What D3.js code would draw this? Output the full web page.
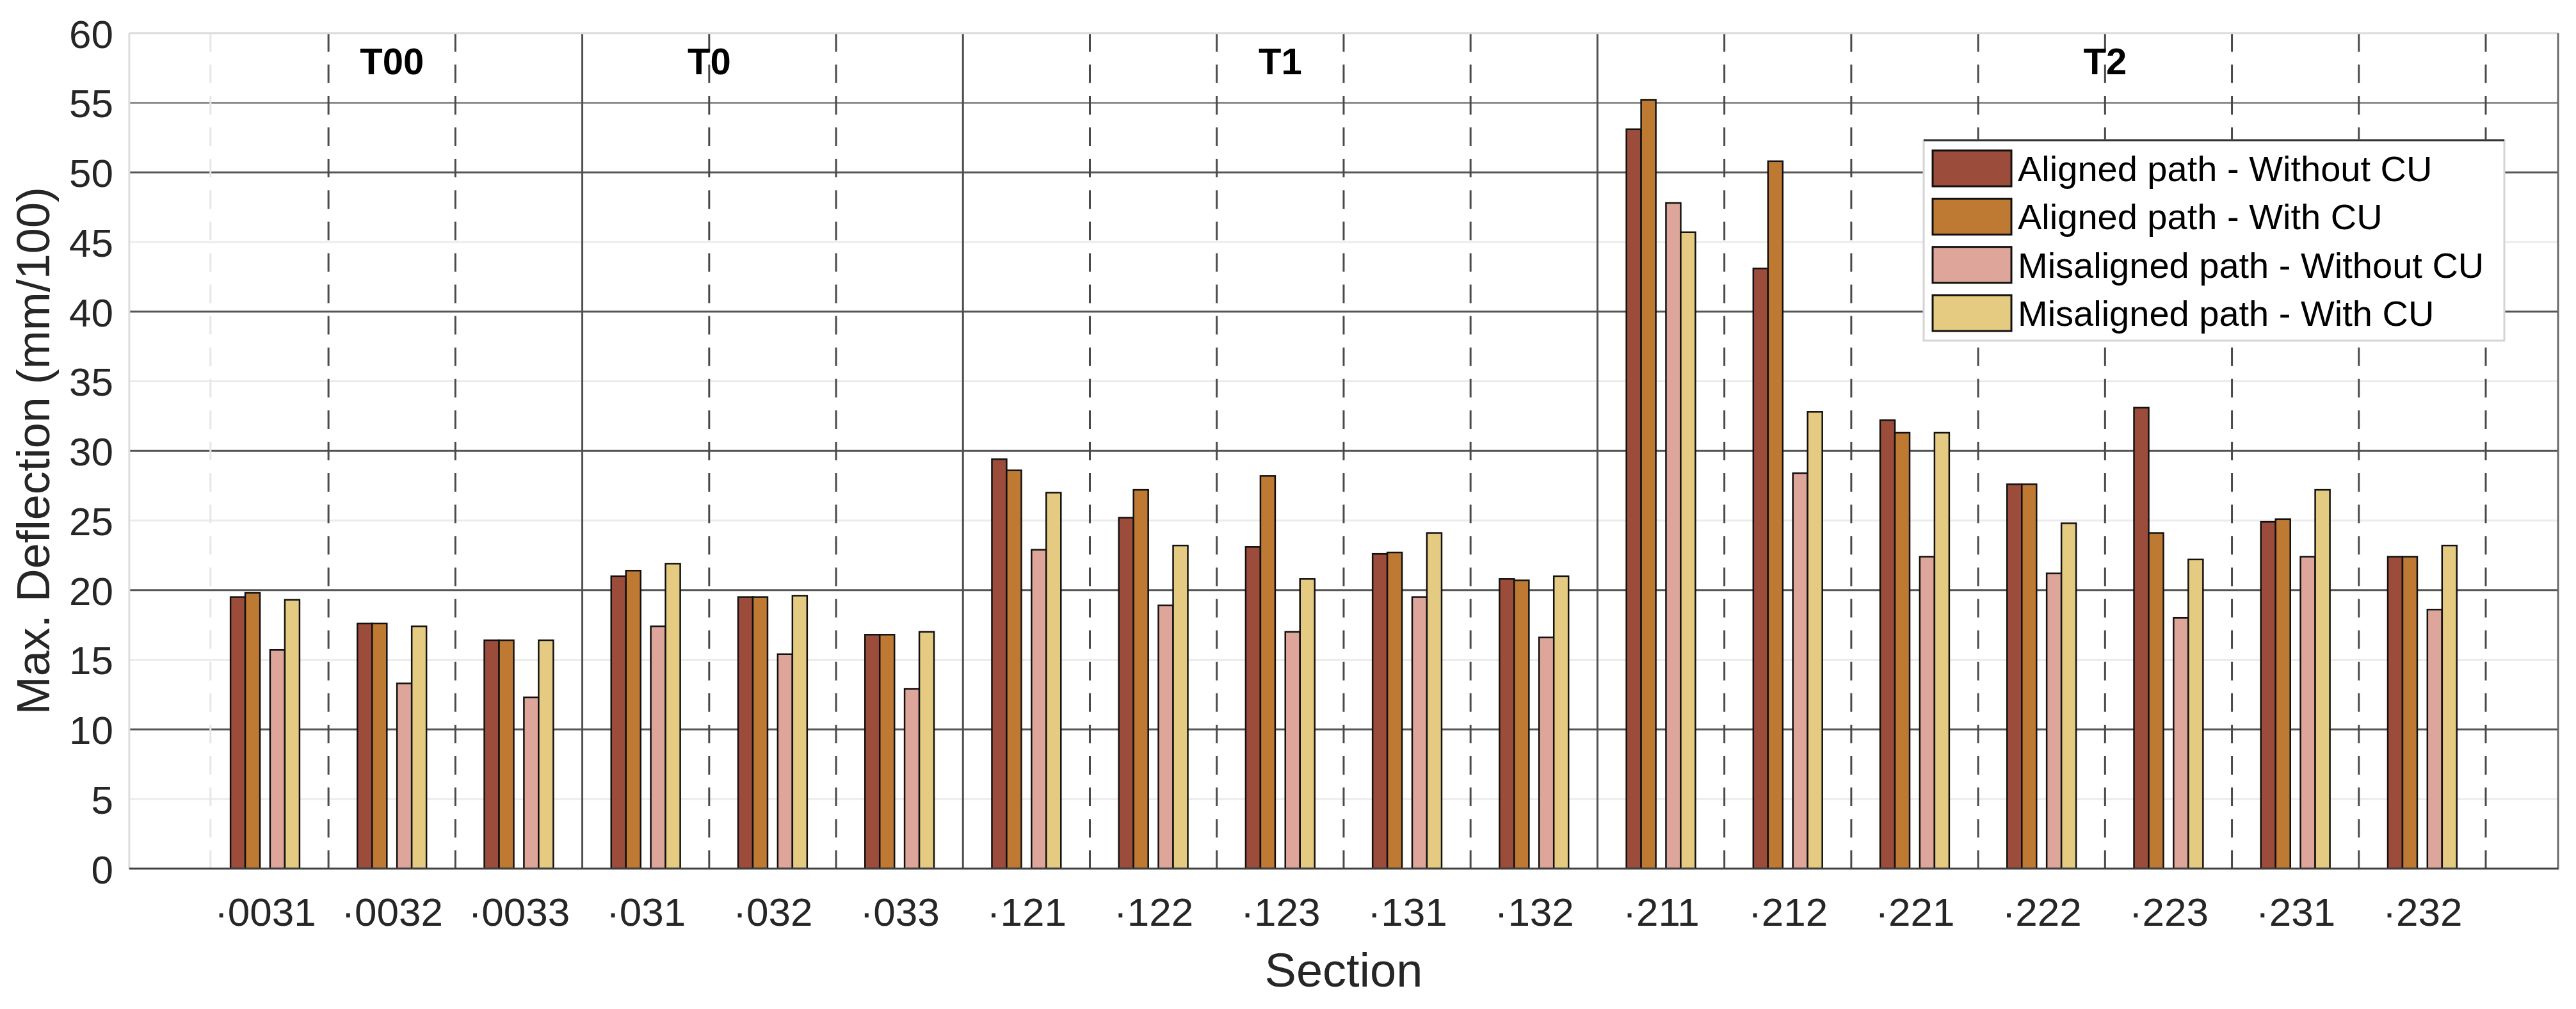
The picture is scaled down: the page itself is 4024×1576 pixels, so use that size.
<!DOCTYPE html>
<html>
<head>
<meta charset="utf-8">
<script src="https://cdn.jsdelivr.net/npm/d3@7"></script>
<style>
  html, body { margin: 0; padding: 0; background: #fff; }
  svg text { font-family: "Liberation Sans", Arial, Helvetica, sans-serif; }
</style>
</head>
<body>
<svg id="chart" width="4024" height="1576"></svg>
<script>
// ---------------- data ----------------
const categories = ["·0031","·0032","·0033","·031","·032","·033","·121","·122","·123","·131","·132","·211","·212","·221","·222","·223","·231","·232"];
const seriesNames = ["Aligned path - Without CU","Aligned path - With CU","Misaligned path - Without CU","Misaligned path - With CU"];
const alignedWithoutCU    = [19.5,17.6,16.4,21.0,19.5,16.8,29.4,25.2,23.1,22.6,20.8,53.1,43.1,32.2,27.6,33.1,24.9,22.4];
const alignedWithCU       = [19.8,17.6,16.4,21.4,19.5,16.8,28.6,27.2,28.2,22.7,20.7,55.2,50.8,31.3,27.6,24.1,25.1,22.4];
const misalignedWithoutCU = [15.7,13.3,12.3,17.4,15.4,12.9,22.9,18.9,17.0,19.5,16.6,47.8,28.4,22.4,21.2,18.0,22.4,18.6];
const misalignedWithCU    = [19.3,17.4,16.4,21.9,19.6,17.0,27.0,23.2,20.8,24.1,21.0,45.7,32.8,31.3,24.8,22.2,27.2,23.2];
const groupNames = ["T00","T0","T1","T2"];
const groupLabelPos = [1, 3.5, 8, 14.5];      // in category-index units
const groupBoundaries = [2.5, 5.5, 10.5];     // solid separators
const yTicks = [0,5,10,15,20,25,30,35,40,45,50,55,60];
const yMajorLines = [10,20,30,40,50];
const yMidLines = [55];
const yMinorLines = [5,15,25,35,45];
const xLabel = "Section";
const yLabel = "Max. Deflection (mm/100)";

// ---------------- styles ----------------
const colors = ["#9B4C3A","#BE7933","#DEA69A","#E4CB81"];
const subOffsets = [-0.214, -0.098, 0.098, 0.214]; // bar centre offsets (fraction of category step)
const barWidthFrac = 0.116;

const series = [alignedWithoutCU, alignedWithCU, misalignedWithoutCU, misalignedWithCU];

const L = 201.9, R = 3996, T = 51.7, B = 1356.7;
const x = d3.scaleLinear().domain([-1.07, categories.length - 1 + 1.07]).range([L, R]);
const y = d3.scaleLinear().domain([0, 60]).range([B, T]);
const step = x(1) - x(0);

const svg = d3.select("#chart");
svg.append("rect").attr("width", 4024).attr("height", 1576).attr("fill", "#fff");

const g = svg.append("g");

// minor (light) grid lines
g.selectAll(".minor").data(yMinorLines).join("line")
  .attr("x1", L).attr("x2", R).attr("y1", d => y(d)).attr("y2", d => y(d))
  .attr("stroke", "#ebebeb").attr("stroke-width", 3);
g.selectAll(".mid").data(yMidLines).join("line")
  .attr("x1", L).attr("x2", R).attr("y1", d => y(d)).attr("y2", d => y(d))
  .attr("stroke", "#8a8a8a").attr("stroke-width", 3);
g.selectAll(".major").data(yMajorLines).join("line")
  .attr("x1", L).attr("x2", R).attr("y1", d => y(d)).attr("y2", d => y(d))
  .attr("stroke", "#555").attr("stroke-width", 3);

// faint dashed line at left
g.append("line").attr("x1", x(-0.43)).attr("x2", x(-0.43)).attr("y1", T).attr("y2", B)
  .attr("stroke", "#e6e6e6").attr("stroke-width", 3).attr("stroke-dasharray", "29,20.1");

// dashed category separators
const seps = d3.range(categories.length).map(i => i + 0.5).filter(v => !groupBoundaries.includes(v));
g.selectAll(".sep").data(seps).join("line")
  .attr("x1", d => x(d)).attr("x2", d => x(d)).attr("y1", T).attr("y2", B)
  .attr("stroke", "#4a4a4a").attr("stroke-width", 3).attr("stroke-dasharray", "29,20.1");

// solid group separators
g.selectAll(".gsep").data(groupBoundaries).join("line")
  .attr("x1", d => x(d)).attr("x2", d => x(d)).attr("y1", T).attr("y2", B)
  .attr("stroke", "#505050").attr("stroke-width", 3);

// bars
series.forEach((vals, j) => {
  g.append("g").selectAll("rect").data(vals).join("rect")
    .attr("x", (d, i) => x(i) + (subOffsets[j] - barWidthFrac / 2) * step)
    .attr("width", barWidthFrac * step)
    .attr("y", d => y(d))
    .attr("height", d => y(0) - y(d))
    .attr("fill", colors[j])
    .attr("stroke", "#111").attr("stroke-width", 2.5);
});

// axes borders
g.append("line").attr("x1", L).attr("x2", R).attr("y1", T).attr("y2", T).attr("stroke", "#dcdcdc").attr("stroke-width", 3);
g.append("line").attr("x1", L).attr("x2", L).attr("y1", T).attr("y2", B).attr("stroke", "#dcdcdc").attr("stroke-width", 3);
g.append("line").attr("x1", R).attr("x2", R).attr("y1", T).attr("y2", B + 1.5).attr("stroke", "#6a6a6a").attr("stroke-width", 3);
g.append("line").attr("x1", L).attr("x2", R).attr("y1", B).attr("y2", B).attr("stroke", "#404040").attr("stroke-width", 3);

// y axis via d3.axisLeft (ticks only labels)
const yAxis = d3.axisLeft(y).tickValues(yTicks).tickSize(0).tickPadding(25).tickFormat(d3.format("d"));
const yAx = svg.append("g").attr("transform", `translate(${L},0)`).call(yAxis);
yAx.select(".domain").remove();
yAx.selectAll("text").attr("font-size", 62).attr("fill", "#262626")
  .attr("font-family", "Liberation Sans, Arial, sans-serif").attr("dy", "0.36em");

// x axis labels via band-like positions
const xAxis = d3.axisBottom(x).tickValues(d3.range(categories.length)).tickSize(0).tickPadding(0)
  .tickFormat(i => categories[i]);
const xAx = svg.append("g").attr("transform", `translate(0,${B})`).call(xAxis);
xAx.select(".domain").remove();
xAx.selectAll("text").attr("font-size", 62).attr("fill", "#262626")
  .attr("font-family", "Liberation Sans, Arial, sans-serif").attr("y", 89).attr("dy", 0);

// axis titles
svg.append("text").attr("x", (L + R) / 2).attr("y", 1541).attr("text-anchor", "middle")
  .attr("font-size", 74).attr("fill", "#262626").text(xLabel);
svg.append("text").attr("transform", `translate(77,${(T + B) / 2}) rotate(-90)`).attr("text-anchor", "middle")
  .attr("font-size", 72).attr("fill", "#262626").text(yLabel);

// group labels
svg.selectAll(".glab").data(groupNames).join("text")
  .attr("x", (d, i) => x(groupLabelPos[i])).attr("y", 116).attr("text-anchor", "middle")
  .attr("font-size", 58).attr("font-weight", "bold").attr("fill", "#000").text(d => d);

// legend
const lg = svg.append("g");
lg.append("rect").attr("x", 3005).attr("y", 219).attr("width", 907).attr("height", 313)
  .attr("fill", "#fff").attr("stroke", "#d4d4d4").attr("stroke-width", 3);
lg.append("line").attr("x1", 3005).attr("x2", 3912).attr("y1", 219).attr("y2", 219).attr("stroke", "#333").attr("stroke-width", 3);
const rowY = d3.scaleLinear().domain([0, 3]).range([263, 489]);
seriesNames.forEach((name, j) => {
  lg.append("rect").attr("x", 3019).attr("y", rowY(j) - 28).attr("width", 123).attr("height", 56)
    .attr("fill", colors[j]).attr("stroke", "#111").attr("stroke-width", 3);
  lg.append("text").attr("x", 3152).attr("y", rowY(j)).attr("dy", "0.36em")
    .attr("font-size", 56).attr("fill", "#000").text(name);
});
</script>
</body>
</html>
